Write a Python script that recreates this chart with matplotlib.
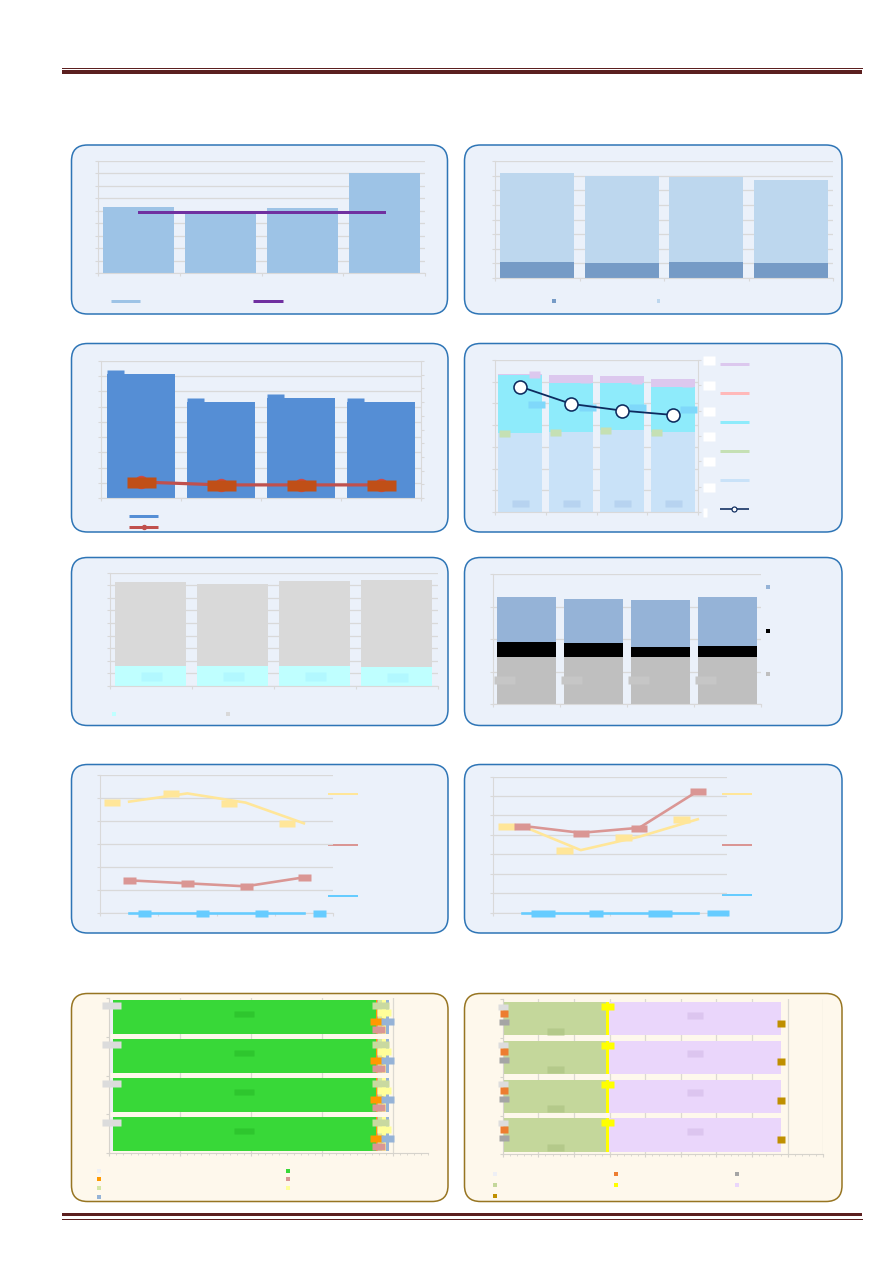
import numpy as np
import matplotlib.pyplot as plt
from matplotlib.patches import FancyBboxPatch, Rectangle
from matplotlib.transforms import offset_copy, blended_transform_factory

W, H = 893, 1263
PT = 0.72  # points per pixel at dpi 100

# ---------------- data (text on it is hidden) ----------------
cats = [0, 1, 2, 3]

# row 1 left: bars + flat average line
p1_bar = [5.3, 4.8, 5.2, 8.0]
p1_avg = [4.9, 4.9, 4.9, 4.9]

# row 1 right: two stacked series
p2_low = [1.10, 1.03, 1.08, 1.03]
p2_high = [6.07, 5.97, 5.86, 5.66]

# row 2 left: bars + line
p3_bar = [8.17, 6.33, 6.60, 6.33]
p3_line = [1.05, 0.86, 0.86, 0.86]

# row 2 right: five stacked series + line
p4_base = [3.65, 3.67, 3.78, 3.69]
p4_green = [0.0, 0.0, 0.0, 0.0]
p4_cyan = [2.68, 2.29, 2.15, 2.07]
p4_pink = [0.0, 0.0, 0.0, 0.0]
p4_lav = [0.03, 0.37, 0.34, 0.35]
p4_line = [5.77, 4.98, 4.67, 4.47]
p4_right_ticks = [0, 1, 2, 3, 4, 5, 6]

# row 3 left: two stacked series
p5_low = [1.59, 1.59, 1.59, 1.50]
p5_high = [6.66, 6.51, 6.74, 6.94]

# row 3 right: three stacked series
p6_gray = [1.46, 1.45, 1.45, 1.45]
p6_black = [0.45, 0.42, 0.30, 0.33]
p6_blue = [1.37, 1.36, 1.45, 1.52]

# row 4 left: three lines
p7_yellow = [4.84, 5.20, 4.80, 3.90]
p7_red = [1.42, 1.29, 1.16, 1.55]
p7_blue = [0.0, 0.0, 0.0, 0.0]

# row 4 right: three lines
p8_yellow = [4.45, 3.21, 3.90, 4.80]
p8_red = [4.46, 4.10, 4.36, 6.25]
p8_blue = [0.0, 0.0, 0.0, 0.0]
p8_blue_lab = [24, 14, 24, 23]

# row 5 left: 100% style horizontal stacks
p9_vals = [[0.014] * 4, [0.925] * 4, [0.005] * 4, [0.005] * 4,
           [0.012] * 4, [0.014] * 4, [0.012] * 4]
p9_cols = ['#EEF0F5', '#38D838', '#FF9900', '#DA9694', '#D4E6A5', '#FFFF99', '#95B3D7']

# row 5 right
p10_vals = [[0.002] * 4, [0.002] * 4, [0.002] * 4, [0.355] * 4,
            [0.0126] * 4, [0.602] * 4, [0.0] * 4]
p10_cols = ['#EEEFF5', '#ED7D31', '#A5A5A5', '#C4D79B', '#FFFF00', '#EAD6FB', '#BF8F00']

GRID = '#D9D9D9'
BLUEBOX = '#EBF1FA'
BLUEEDGE = '#2E75B6'

fig = plt.figure(figsize=(W / 100, H / 100), dpi=100)
bg = fig.add_axes([0, 0, 1, 1])
bg.set_xlim(0, W)
bg.set_ylim(H, 0)
bg.axis('off')


def add_ax(x0, y0, x1, y1):
    ax = fig.add_axes([x0 / W, 1 - y1 / H, (x1 - x0) / W, (y1 - y0) / H])
    ax.patch.set_alpha(0)
    return ax


def panel(x0, y0, x1, y1, fc=BLUEBOX, ec=BLUEEDGE):
    bg.add_patch(FancyBboxPatch((x0, y0), x1 - x0, y1 - y0,
                                boxstyle='round,pad=0,rounding_size=16',
                                fc=fc, ec=ec, lw=1.1))


def frame(ax, ymax, grid_axis='y'):
    ax.set_xlim(-0.5, 3.5)
    ax.set_ylim(0, ymax)
    ax.set_yticks(np.arange(0, ymax + 0.01, 1))
    ax.set_xticks([-0.5, 0.5, 1.5, 2.5, 3.5])
    ax.grid(axis=grid_axis, color=GRID, lw=0.9)
    ax.set_axisbelow(True)
    for k in ['top', 'right']:
        ax.spines[k].set_visible(False)
    for k in ['left', 'bottom']:
        ax.spines[k].set_color(GRID)
    ax.tick_params(length=2.5, color=GRID, labelleft=False, labelbottom=False)


def tag(ax, x, y, w, h, color, dx=0, dy=0, z=6, tr=None):
    # hidden data label box (w x h pixels), shifted dx/dy pixels
    verts = [(-w / 2, -h / 2), (w / 2, -h / 2), (w / 2, h / 2), (-w / 2, h / 2), (-w / 2, -h / 2)]
    base = ax.transData if tr is None else tr
    t = offset_copy(base, fig=fig, x=dx, y=dy, units='dots')
    ax.plot(x, y, ls='none', marker=verts, ms=max(w, h) * PT, mfc=color, mec='none',
            transform=t, zorder=z, clip_on=False)


def key_line(x0, x1, y, color, lw=3):
    bg.plot([x0, x1], [y, y], color=color, lw=lw * PT, solid_capstyle='butt')


def key_sq(x, y, color, s=4):
    bg.add_patch(Rectangle((x - s / 2, y - s / 2), s, s, color=color, lw=0))


# ---------------- page rules ----------------
MAROON = '#5B1F1F'
bg.plot([62, 862], [68, 68], color=MAROON, lw=1 * PT)
bg.add_patch(Rectangle((62, 70), 800, 3.5, color=MAROON, lw=0))
bg.add_patch(Rectangle((62, 1212.5), 800, 3.5, color=MAROON, lw=0))
bg.plot([62, 862], [1218.5, 1218.5], color=MAROON, lw=1 * PT)

# ---------------- panels ----------------
panel(71.5, 145, 447.5, 314)
panel(464.5, 145, 842, 314)
panel(71.5, 343.5, 448, 532)
panel(464.5, 343.5, 842, 532)
panel(71.5, 557.5, 448, 725.5)
panel(464.5, 557.5, 842, 725.5)
panel(71.5, 764.5, 448, 933)
panel(464.5, 764.5, 842, 933)
panel(71.5, 993.5, 448, 1201.5, fc='#FEF8EC', ec='#977522')
panel(464.5, 993.5, 842, 1201.5, fc='#FEF8EC', ec='#977522')

# ---------------- row 1 left ----------------
ax = add_ax(98, 161, 425, 273)
frame(ax, 9)
ax.bar(cats, p1_bar, width=0.87, color='#9DC3E6', lw=0)
ax.plot(cats, p1_avg, color='#7030A0', lw=3 * PT, zorder=4)
key_line(111, 140, 301, '#9DC3E6')
key_line(253, 283, 301, '#7030A0')

# ---------------- row 1 right ----------------
ax = add_ax(495, 161, 833, 278)
frame(ax, 8)
ax.bar(cats, p2_low, width=0.88, color='#769BC6', lw=0)
ax.bar(cats, p2_high, width=0.88, bottom=p2_low, color='#BDD7EE', lw=0)
key_sq(554, 301, '#769BC6', 3.5)
key_sq(658.5, 301, '#BDD7EE', 3.5)

# ---------------- row 2 left ----------------
ax = add_ax(101, 361, 421, 498)
frame(ax, 9)
ax.bar(cats, p3_bar, width=0.86, color='#558ED5', lw=0)
tag(ax, cats, p3_bar, 17, 8, '#558ED5', dx=-26)
ax.plot(cats, p3_line, color='#C0504D', lw=3.2 * PT, marker='o', ms=12 * PT,
        mfc='#D04848', mec='#D04848', zorder=4)
tag(ax, cats, p3_line, 29, 11, '#C04F17')
ax3b = ax.twinx()
ax3b.set_ylim(0, 10)
ax3b.set_yticks(range(11))
for k in ['top', 'left', 'bottom']:
    ax3b.spines[k].set_visible(False)
ax3b.spines['right'].set_color(GRID)
ax3b.tick_params(length=2.5, color=GRID, labelright=False)
key_line(129, 158, 516, '#558ED5')
key_line(129, 158, 526.5, '#C0504D')
bg.plot([143.5], [526.5], marker='o', ms=4 * PT, color='#C0504D')

# ---------------- row 2 right ----------------
ax = add_ax(495, 360, 698, 512)
frame(ax, 7)
bot = np.zeros(4)
for vals, col in [(p4_base, '#C9E2F8'), (p4_green, '#C5E0B4'), (p4_cyan, '#8EEBFB'),
                  (p4_pink, '#FFB9B9'), (p4_lav, '#DCC8EE')]:
    ax.bar(cats, vals, width=0.87, bottom=bot, color=col, lw=0)
    bot = bot + np.array(vals)
b0 = np.array(p4_base)
tag(ax, cats, [0.4] * 4, 17, 7, '#B7D3F0')
tag(ax, cats, b0 + np.array(p4_green) / 2, 11, 7, '#C5E0B4', dx=-16.5)
c0 = b0 + np.array(p4_green)
tag(ax, cats, c0 + np.array(p4_cyan) / 2, 17, 7, '#7FD8FA', dx=15.5)
l0 = c0 + np.array(p4_cyan) + np.array(p4_pink)
tag(ax, cats, l0 + np.array(p4_lav) / 2, 11, 7, '#DCC8EE', dx=14)
ax.plot(cats, p4_line, color='#0D2B5E', lw=1.8 * PT, marker='o', ms=13 * PT,
        mfc='white', mec='#0D2B5E', mew=1.6 * PT, zorder=8)
ax4b = ax.twinx()
ax4b.set_ylim(0, 6)
ax4b.set_yticks(p4_right_ticks)
for k in ['top', 'left', 'bottom']:
    ax4b.spines[k].set_visible(False)
ax4b.spines['right'].set_color(GRID)
ax4b.tick_params(length=2.5, color=GRID, labelright=False)
rt = blended_transform_factory(ax4b.transAxes, ax4b.transData)
for v in p4_right_ticks:
    w = 4 if v == 0 else 12
    tag(ax4b, [1.0], [v], w, 9, 'white', dx=5 + w / 2, tr=rt)
key_line(720, 749, 363.5, '#DCC8EE')
key_line(720, 749, 392.5, '#FFB9B9')
key_line(720, 749, 422, '#8EEBFB')
key_line(720, 749, 451, '#C5E0B4')
key_line(720, 749, 480, '#C9E2F8')
key_line(720, 749, 509, '#0D2B5E', lw=1.6)
bg.plot([734], [509], marker='o', ms=5 * PT, mfc='white', mec='#0D2B5E', mew=1.2 * PT)

# ---------------- row 3 left ----------------
ax = add_ax(109.5, 572.5, 437.5, 686)
frame(ax, 9)
ax.bar(cats, p5_low, width=0.87, color='#BFFFFF', lw=0)
ax.bar(cats, p5_high, width=0.87, bottom=p5_low, color='#D9D9D9', lw=0)
tag(ax, cats, np.array(p5_low) / 2, 21, 9, '#B2F8FF')
key_sq(113.5, 714, '#BFFFFF')
key_sq(228, 714, '#D9D9D9')

# ---------------- row 3 right ----------------
ax = add_ax(493, 574, 761, 704)
frame(ax, 4)
ax.bar(cats, p6_gray, width=0.876, color='#BFBFBF', lw=0)
ax.bar(cats, p6_black, width=0.876, bottom=p6_gray, color='#000000', lw=0)
ax.bar(cats, p6_blue, width=0.876, bottom=np.array(p6_gray) + np.array(p6_black),
       color='#95B3D7', lw=0)
tag(ax, cats, np.array(p6_gray) / 2, 21, 8, '#C6C6C6', dx=-23)
key_sq(768, 587, '#95B3D7')
key_sq(768, 631, '#000000')
key_sq(768, 674, '#BFBFBF')

# ---------------- row 4 left ----------------
ax = add_ax(100, 775, 333, 913)
frame(ax, 6)
ax.plot(cats, p7_yellow, color='#FFE699', lw=2.6 * PT, zorder=4)
ax.plot(cats, p7_red, color='#DA9694', lw=2.6 * PT, zorder=4)
ax.plot(cats, p7_blue, color='#66CCFF', lw=2.6 * PT, zorder=4, clip_on=False)
tag(ax, cats, p7_yellow, 16, 7, '#FFE699', dx=-16.7)
tag(ax, cats, p7_red, 13, 7, '#DA9694')
tag(ax, cats, p7_blue, 13, 7, '#66CCFF', dx=15)
key_line(328, 358, 794, '#FFE699', lw=2)
key_line(328, 358, 844.5, '#DA9694', lw=2)
key_line(328, 358, 895.5, '#66CCFF', lw=2)

# ---------------- row 4 right ----------------
ax = add_ax(493, 776.5, 727, 912.5)
frame(ax, 7)
ax.plot(cats, p8_yellow, color='#FFE699', lw=2.6 * PT, zorder=4)
ax.plot(cats, p8_red, color='#DA9694', lw=2.6 * PT, zorder=5)
ax.plot(cats, p8_blue, color='#66CCFF', lw=2.6 * PT, zorder=4, clip_on=False)
tag(ax, cats, p8_yellow, 17, 7, '#FFE699', dx=-16.5)
tag(ax, cats, p8_red, 16, 7, '#DA9694', z=7)
for i, w in enumerate(p8_blue_lab):
    tag(ax, [cats[i]], [p8_blue[i]], w, 7, '#66CCFF', dx=8.3 + w / 2)
key_line(722, 752, 794, '#FFE699', lw=2)
key_line(722, 752, 844.5, '#DA9694', lw=2)
key_line(722, 752, 894.5, '#66CCFF', lw=2)


# ---------------- row 5: horizontal stacks ----------------
def hframe(ax, major):
    ax.set_xlim(0, 1.125)
    ax.set_ylim(3.5, -0.5)
    ax.set_xticks(np.arange(0, 1.126, major))
    ax.set_xticks(np.arange(0, 1.126, 0.025), minor=True)
    ax.set_yticks([-0.5, 0.5, 1.5, 2.5, 3.5])
    ax.grid(axis='x', which='major', color='#DCD9D2', lw=0.9)
    ax.set_axisbelow(True)
    for k in ['top', 'right']:
        ax.spines[k].set_visible(False)
    for k in ['left', 'bottom']:
        ax.spines[k].set_color('#D6D3CC')
    ax.tick_params(which='both', length=2.5, color='#D6D3CC', labelleft=False, labelbottom=False)
    ax.tick_params(which='minor', length=1.5)


ax = add_ax(109.3, 997.7, 428.3, 1153.3)
hframe(ax, 0.25)
left = np.zeros(4)
mids = []
for vals, col in zip(p9_vals, p9_cols):
    ax.barh(cats, vals, height=0.86, left=left, color=col, lw=0)
    mids.append(left + np.array(vals) / 2)
    left = left + np.array(vals)
# hidden labels
p9_tags = [(0, 19, '#DCDCDC', 12), (1, 20, '#2EC62E', 3), (2, 13, '#FF9900', -4),
           (3, 13, '#DA9694', -12), (4, 17, '#C9D9A0', 12), (5, 14, '#FFFF99', 5),
           (6, 13, '#95B3D7', -4)]
for k, w, col, dy in p9_tags:
    tag(ax, mids[k], cats, w, 7, col, dy=dy)
for (x, y), col in zip([(99.3, 1171), (99.3, 1179.3), (99.3, 1187.7), (99.3, 1196.7),
                        (288.3, 1171), (288.3, 1179.3), (288.3, 1187.7)],
                       [p9_cols[0], p9_cols[2], p9_cols[4], p9_cols[6],
                        p9_cols[1], p9_cols[3], p9_cols[5]]):
    key_sq(x, y, col)

ax = add_ax(502.7, 999.3, 823.3, 1154.3)
hframe(ax, 0.125)
left = np.zeros(4)
mids = []
for vals, col in zip(p10_vals, p10_cols):
    ax.barh(cats, vals, height=0.86, left=left, color=col, lw=0)
    mids.append(left + np.array(vals) / 2)
    left = left + np.array(vals)
p10_tags = [(0, 10, 6, '#DDDDDD', 12), (1, 8, 7, '#ED7D31', 6), (2, 10, 7, '#A5A5A5', -3),
            (3, 17, 7, '#B4C98A', -12), (4, 13, 7, '#FFFF00', 12.5), (5, 16, 7, '#DCC5EF', 4),
            (6, 8, 7, '#BF8F00', -4)]
for k, w, h, col, dy in p10_tags:
    tag(ax, mids[k], cats, w, h, col, dy=dy)
for (x, y), col in zip([(495, 1174.3), (495, 1185), (495, 1195.7),
                        (616.3, 1174.3), (616.3, 1185),
                        (737.3, 1174.3), (737.3, 1185)],
                       [p10_cols[0], p10_cols[3], p10_cols[6],
                        p10_cols[1], p10_cols[4],
                        p10_cols[2], p10_cols[5]]):
    key_sq(x, y, col)

fig.savefig('out.png', dpi=100)
